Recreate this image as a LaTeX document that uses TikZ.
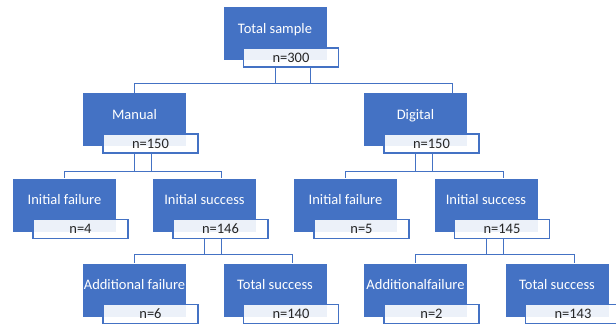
\documentclass[tikz,border=0pt]{standalone}
\usepackage{fontspec}
\setmainfont{Carlito}
\definecolor{boxblue}{HTML}{4472C4}
\begin{document}
\begin{tikzpicture}
		[x=1pt,y=-1pt,
		place/.style={rectangle,fill=boxblue,text=white,inner sep=0pt,
minimum width=103pt,minimum height=53pt,text height=10pt,text depth=11pt,font=\fontsize{14.5}{16}\selectfont},
		count/.style={rectangle,draw=boxblue,line width=1.4pt,fill=white,fill opacity=0.9,text opacity=1,
text=black!85,inner sep=0pt,minimum width=95pt,minimum height=19pt,font=\fontsize{14.5}{16}\selectfont},
		edgestyle/.style={-,draw=boxblue,line width=0.8pt}]
		\useasboundingbox (0,0) rectangle (616,327);
		% level 0
		\node at (275, 33.5) (t) [place] {Total sample};
		\node at (291, 57.5) (nt) [count] {n=300};
		% level 1
		\node at (134.5, 119.5) (m) [place] {Manual};
		\node at (150.5, 143.5) (nm) [count] {n=150};
		\node at (415.5, 119.5) (d) [place] {Digital};
		\node at (431.5, 143.5) (nd) [count] {n=150};
		% level 2
		\node at (64.5, 205) (mf) [place] {Initial failure};
		\node at (80.5, 229) (nmf) [count] {n=4};
		\node at (204.5, 205) (ms) [place] {Initial success};
		\node at (220.5, 229) (nms) [count] {n=146};
		\node at (345.5, 205) (df) [place] {Initial failure};
		\node at (361.5, 229) (ndf) [count] {n=5};
		\node at (486, 205) (ds) [place] {Initial success};
		\node at (502, 229) (nds) [count] {n=145};
		% level 3
		\node at (134.5, 290) (ma) [place] {Additional failure};
		\node at (150.5, 314) (nma) [count] {n=6};
		\node at (275, 290) (mt) [place] {Total success};
		\node at (291, 314) (nmt) [count] {n=140};
		\node at (415.5, 290) (da) [place] {Additionalfailure};
		\node at (431.5, 314) (nda) [count] {n=2};
		\node at (557, 290) (dt) [place] {Total success};
		\node at (573, 314) (ndt) [count] {n=143};
		% connectors
		\draw[edgestyle] ([xshift=19pt]nt.south) -- ++(0,16) -| (m.north);
		\draw[edgestyle] ([xshift=-16pt]nt.south) -- ++(0,16) -| ([xshift=36.5pt]d.north);
		\draw[edgestyle] ([xshift=1pt]nm.south) -- ++(0,18) -| (mf.north);
		\draw[edgestyle] ([xshift=-16pt]nm.south) -- ++(0,18) -| ([xshift=17pt]ms.north);
		\draw[edgestyle] ([xshift=1pt]nd.south) -- ++(0,18) -| (df.north);
		\draw[edgestyle] ([xshift=-16pt]nd.south) -- ++(0,18) -| ([xshift=17pt]ds.north);
		\draw[edgestyle] ([xshift=1pt]nms.south) -- ++(0,15) -| (ma.north);
		\draw[edgestyle] ([xshift=-16pt]nms.south) -- ++(0,15) -| ([xshift=17pt]mt.north);
		\draw[edgestyle] ([xshift=1pt]nds.south) -- ++(0,15) -| (da.north);
		\draw[edgestyle] ([xshift=-16pt]nds.south) -- ++(0,15) -| ([xshift=17pt]dt.north);
	\end{tikzpicture}
\end{document}
